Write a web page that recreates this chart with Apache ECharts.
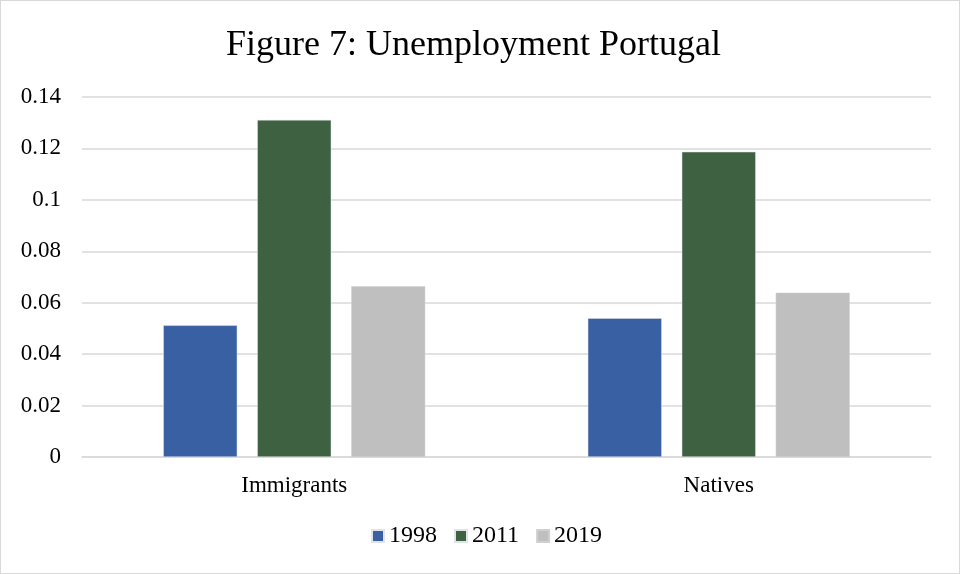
<!DOCTYPE html>
<html>
<head>
<meta charset="utf-8">
<script src="https://cdn.jsdelivr.net/npm/echarts@6/dist/echarts.min.js"></script>
<style>
  html, body { margin: 0; padding: 0; background: #fff; }
  #chart { width: 960px; height: 574px; box-sizing: border-box; border: 1px solid #d9d9d9; }
</style>
</head>
<body>
<div id="chart"></div>
<script>
// Unemployment rates in Portugal by group and year
const categories = ['Immigrants', 'Natives'];
const years = ['1998', '2011', '2019'];
const rate1998 = [0.0512, 0.0540];
const rate2011 = [0.1311, 0.1187];
const rate2019 = [0.0664, 0.0639];
const yTicks = { min: 0, max: 0.14, interval: 0.02 };

const colors = ['#3a60a4', '#3e6241', '#bfbfbf'];
const serif = '"Liberation Serif", "Times New Roman", serif';
const seriesValues = [rate1998, rate2011, rate2019];

const chart = echarts.init(document.getElementById('chart'), null, { renderer: 'canvas' });

chart.setOption({
  animation: false,
  color: colors,
  title: {
    text: 'Figure 7: Unemployment Portugal',
    left: 220,
    top: 22,
    textStyle: { fontFamily: serif, fontSize: 36, fontWeight: 'normal', color: '#000' }
  },
  legend: {
    data: years,
    bottom: 20,
    left: 365,
    icon: 'rect',
    itemWidth: 12,
    itemHeight: 12,
    itemGap: 17,
    textStyle: { fontFamily: serif, fontSize: 24, color: '#000' }
  },
  grid: { left: 81, right: 28, top: 96, bottom: 116, containLabel: false },
  xAxis: {
    type: 'category',
    data: categories,
    axisTick: { show: false },
    axisLine: { lineStyle: { color: '#d9d9d9', width: 1.5 } },
    axisLabel: { fontFamily: serif, fontSize: 23, color: '#000', margin: 17 }
  },
  yAxis: {
    type: 'value',
    min: yTicks.min,
    max: yTicks.max,
    interval: yTicks.interval,
    axisLine: { show: false },
    axisTick: { show: false },
    splitLine: { lineStyle: { color: '#d9d9d9', width: 1.5 } },
    axisLabel: {
      fontFamily: serif, fontSize: 23, color: '#000', margin: 21,
      formatter: v => String(parseFloat(v.toFixed(2)))
    }
  },
  series: years.map((y, i) => ({
    name: y,
    type: 'bar',
    data: seriesValues[i],
    barWidth: 74,
    barGap: '27%',
    itemStyle: { color: colors[i], borderColor: i === 2 ? '#d0d0d0' : '#e0e4ea', borderWidth: 0.5 }
  }))
});
</script>
</body>
</html>
